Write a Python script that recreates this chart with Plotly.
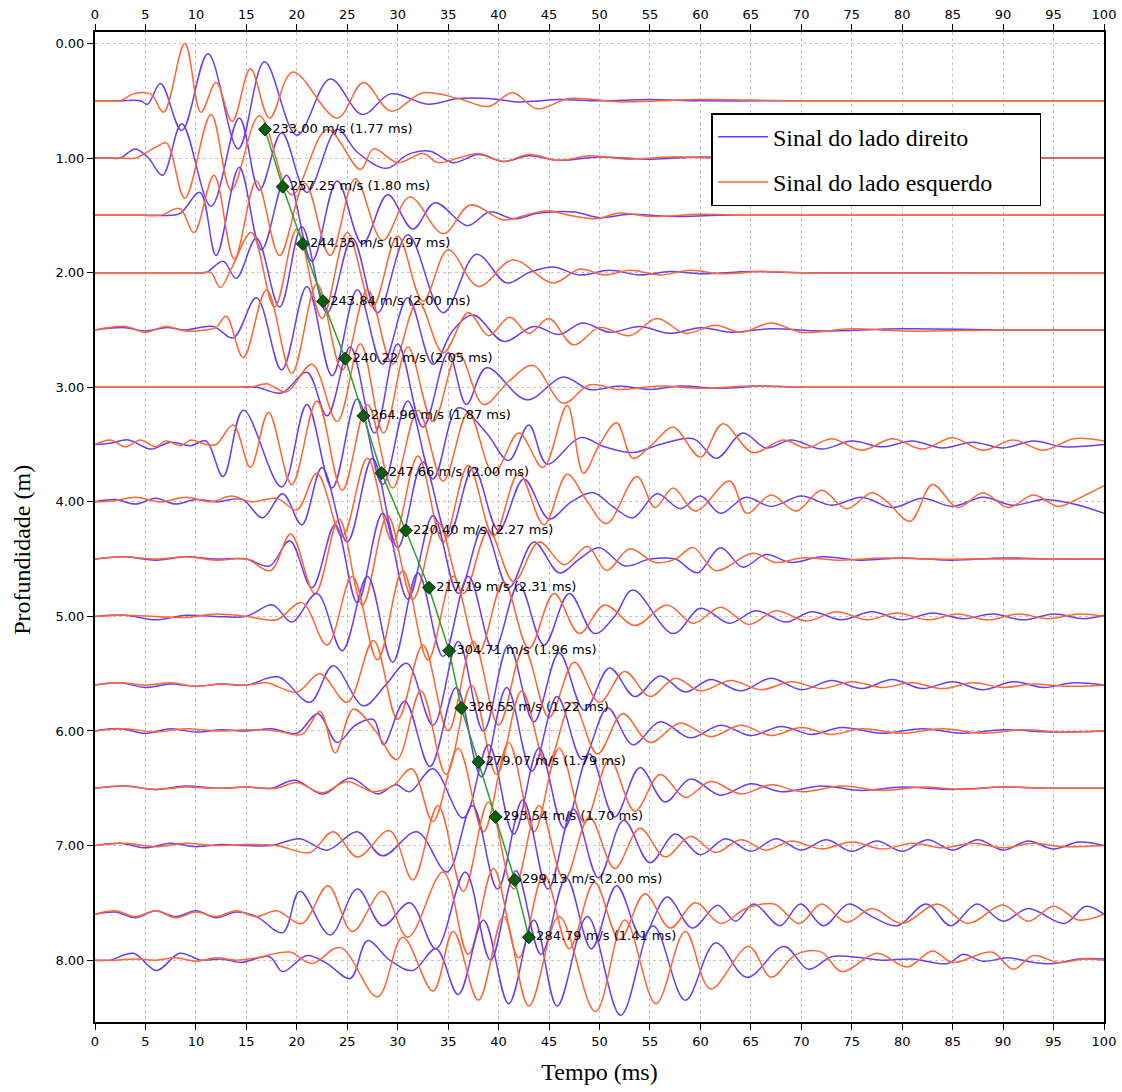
import plotly.graph_objects as go

# ---------------- data ----------------
# trace baselines (depth, m)
depths = [0.5, 1.0, 1.5, 2.0, 2.5, 3.0, 3.5, 4.0, 4.5, 5.0, 5.6, 6.0, 6.5, 7.0, 7.6, 8.0]

# Each trace: key points (time ms, deflection m, positive = upwards)
b05_t = [0,2.5,4.5,5.2,6.5,8.6,11.2,14.2,16.8,20.0,23.3,26.5,29.3,33.0,36.0,39.0,42.0,46,50,55,60,70,80,100]
b05_a = [0,0,0,-0.03,0.15,-0.26,0.41,-0.42,0.34,-0.30,0.19,-0.12,0.06,-0.03,0.02,0.02,-0.01,0.01,0,0.01,0,0,0,0]
r05_t = [0,1.5,2.5,3.8,5.5,6.8,8.9,10.5,12.0,13.6,15.4,17.3,19.6,24.0,26.6,29.3,32.5,36.0,39.0,41.4,43.8,47,52,60,70,80,100]
r05_a = [0,0,0,0.06,0.06,-0.10,0.50,-0.10,0.16,-0.18,0.28,-0.15,0.25,-0.15,0.16,-0.09,0.07,0.02,-0.05,0.07,-0.07,0.02,-0.01,0.01,0,0,0]

b10_t = [0,1.5,2.5,4.0,5.3,6.7,8.6,11.5,14.3,16.3,18.5,21.0,24.0,26.0,28.9,31.0,33.2,35.5,38,40.5,43,46,50,55,60,65,70,100]
b10_a = [0,0,0,0.08,0.0,-0.15,0.30,-0.42,0.35,-0.28,0.22,-0.30,0.25,0.05,-0.09,0.03,0.06,-0.04,0.03,-0.03,0.02,-0.02,0.01,-0.01,0.01,0,0,0]
r10_t = [0,1.5,2.5,4.0,6.1,7.1,8.9,11.5,13.5,16.3,19.5,23.0,26.3,27.6,30,32.5,34,36,38,40.5,43,46,49,53,57,62,70,100]
r10_a = [0,0,0,0.0,0.10,0.13,-0.35,0.38,-0.28,0.37,-0.32,0.25,-0.10,0.08,-0.04,0.04,-0.04,0.0,0.04,-0.03,0.03,-0.02,0.02,-0.01,0.01,0,0,0]

b15_t = [0,3,6,7.5,8.5,10.4,12.0,14.3,16.5,19.0,21.5,24.0,26.5,29.0,31.5,33.7,36.9,39.1,41.5,44,47.5,50,53,57,62,70,100]
b15_a = [0,0,0,0,0.02,0.20,-0.35,0.42,-0.30,0.35,-0.40,0.30,-0.25,0.18,-0.12,0.11,-0.09,0.03,-0.03,0.02,0.03,-0.02,0.01,-0.01,0,0,0]
r15_t = [0,2,4.5,6.5,8.4,9.8,11.8,13.8,16.0,18.3,20.8,23.3,25.8,28.5,31.2,34.5,37.2,40.5,43,45,47,49.6,52,55,60,65,100]
r15_a = [0,0,0,0.0,0.06,-0.15,0.35,-0.38,0.30,-0.35,0.28,-0.35,0.32,-0.22,0.16,-0.16,0.09,-0.04,0.01,0.04,0.0,-0.03,0.02,-0.01,0.01,0,0]

b20_t = [0,4,8,10,11.0,12.7,14.0,16.0,18.3,20.5,23.0,25.5,28.0,31.0,34.5,37.8,40.8,43.0,45.4,48,51,54,57,60,65,70,100]
b20_a = [0,0,0,0,0,0.10,-0.05,0.30,-0.30,0.40,-0.35,0.30,-0.35,0.33,-0.35,0.16,-0.09,0.0,0.05,-0.02,0.02,-0.02,0.01,-0.01,0.01,0,0]
r20_t = [0,4,8,10.5,11.5,12.4,13.6,15.5,17.8,20.0,22.5,25.0,27.5,30.0,32.5,35.0,38.0,41.4,45.4,48,50.5,53,56,59,62,66,70,100]
r20_a = [0,0,0,0,0,-0.13,0.05,0.35,-0.30,0.38,-0.40,0.35,-0.30,0.32,-0.25,0.20,-0.12,0.11,-0.09,0.03,-0.02,0.02,-0.02,0.02,-0.01,0.01,0,0]

b25_t = [0,3,5,7,9,11.7,13.7,16.0,18.5,21.0,23.5,26.0,28.5,31.0,33.5,35.5,37.5,40.5,43.5,46,48.3,51,54,57,60,63,67,72,80,90,100]
b25_a = [0,0.02,-0.01,0.02,0,0.03,-0.07,0.28,-0.35,0.38,-0.40,0.35,-0.30,0.28,-0.30,0.0,0.13,-0.10,0.03,-0.04,0.06,-0.02,0.03,-0.03,0.02,-0.02,0.01,-0.01,0.01,0,0]
r25_t = [0,3,5,7,9,11,12,13.0,14.7,17.0,19.5,22.0,24.5,27.0,29.5,32.0,34.5,37.0,39,41.1,43,45.0,47.4,50,53,55.7,58.5,61.5,64,67,70,75,80,90,100]
r25_a = [0,0.03,-0.02,0.03,-0.01,0,0.02,0.12,-0.24,0.35,-0.38,0.40,-0.35,0.35,-0.30,0.25,-0.20,0.15,-0.05,0.11,-0.03,0.10,-0.13,0.02,-0.05,0.10,-0.03,0.04,-0.02,0.06,-0.02,0.01,-0.01,0,0]

b30_t = [0,5,10,14,16,18.5,21.0,23.0,25.3,27.7,30.0,32.5,35.0,36.8,38.8,42.8,46.4,49,52,55,58,62,66,70,80,90,100]
b30_a = [0,0,0,0,0,-0.05,0.13,-0.25,0.35,-0.40,0.38,-0.35,0.30,-0.15,0.17,-0.11,0.09,-0.02,0.01,-0.02,0.01,-0.01,0.01,0,0,0,0]
r30_t = [0,5,10,14,15.5,17.0,19.0,21.5,24.0,26.3,28.6,31.0,33.5,36.0,38.5,41.0,43.4,46.4,49,52,56,60,65,70,80,90,100]
r30_a = [0,0,0,0,0,0.03,-0.04,0.20,-0.30,0.38,-0.40,0.35,-0.30,0.30,-0.15,0.05,0.19,-0.14,0.02,-0.02,0.01,-0.01,0.01,0,0,0,0]

b35_t = [0,1.5,3.3,5.5,7.5,9.5,11.0,12.7,14.7,18.5,21.0,23.5,26.0,28.5,31.0,33.5,36.0,38.8,41.0,43.0,44.8,48.1,50.5,53.3,56,59.3,61.6,64.2,66.5,69,72,75,78,81,84,87,90,93,96,100]
b35_a = [0,0.01,0.04,-0.04,0.02,-0.01,0.03,-0.28,0.30,-0.37,0.35,-0.38,0.40,-0.35,0.38,-0.30,0.32,0.10,-0.14,0.17,-0.17,0.06,-0.02,-0.07,0.0,0.05,-0.12,0.10,-0.03,0.04,-0.04,0.03,-0.02,0.03,-0.03,0.02,-0.03,0.03,-0.02,0.0]
r35_t = [0,1.5,3.0,4.5,6.0,7.0,8.5,9.5,11.0,12.0,13.7,15.4,17.2,19.5,22.0,24.5,27.0,29.5,32.0,34.5,37.0,39.5,42.0,44.4,46.8,48.4,50,51.7,53.3,55.2,57.3,60.0,62.2,65.2,68.2,70.5,73,76,79,82,85,88,91,94,97,100]
r35_a = [0,0.04,-0.02,0.04,-0.02,0.03,-0.01,0.04,0.0,0.0,0.17,-0.20,0.28,-0.35,0.38,-0.40,0.35,-0.38,0.30,-0.32,0.28,-0.25,0.10,-0.20,0.34,-0.25,0.0,0.19,-0.12,0.0,0.15,-0.11,0.18,-0.07,0.04,-0.03,0.05,-0.05,0.05,-0.04,0.06,-0.05,0.04,-0.05,0.05,0.03]

b40_t = [0,2,4,6,8,10,12,14.6,16.6,18.6,20.5,22.5,25.0,27.5,30.0,32.5,35.0,37.5,40.0,42.5,45.0,47.2,49.4,51.3,53.3,55.7,58,60,62,64.5,67,70,73,76,79,82,85,88,91,94,97,100]
b40_a = [0,0.02,-0.02,0.03,-0.02,0.02,0.0,0.02,-0.14,0.07,-0.20,0.30,-0.35,0.38,-0.40,0.35,-0.30,0.30,-0.25,0.20,-0.15,0.0,0.08,-0.04,-0.14,0.07,-0.06,0.05,-0.10,0.04,-0.04,0.05,-0.03,0.04,-0.05,0.03,-0.04,0.04,-0.03,0.02,-0.02,-0.10]
r40_t = [0,2,4,6.5,9,11.5,13.5,15.5,18.0,20.0,22.0,24.5,27.0,29.5,32.0,34.5,37.0,39.5,42.0,44.5,46.8,48.8,50.7,53.7,55.5,57.3,59.5,62.9,64.6,67,69.5,72,74.5,77,78.5,80.8,83,85.5,88,90.5,93,95.5,97.5,100]
r40_a = [0,0.01,0.04,0.0,0.04,0.0,0.05,0.0,0.03,-0.07,0.25,-0.30,0.38,-0.35,0.40,-0.35,0.32,-0.30,0.25,-0.20,0.24,0.0,-0.19,0.22,-0.05,0.12,-0.08,0.18,-0.10,0.06,-0.08,0.10,-0.06,0.08,0.0,-0.17,0.15,-0.05,0.08,-0.05,0.06,-0.04,0.03,0.14]

b45_t = [0,3,6,9,12,15,17.3,19.3,21.5,23.8,26.0,28.5,31.0,33.5,36.0,38.5,41.0,43.5,46.0,48.0,50.0,52.5,55,57.5,59.7,62.0,64.2,66.5,69,72,76,80,85,90,95,100]
b45_a = [0,0.02,-0.01,0.02,0.0,0.0,-0.06,0.16,-0.25,0.30,-0.38,0.40,-0.35,0.38,-0.30,0.28,-0.25,0.15,-0.12,0.0,0.10,-0.06,0.0,0.0,-0.12,0.10,-0.07,0.04,-0.03,0.02,-0.01,0.01,-0.01,0.01,0,0]
r45_t = [0,3,6,9,12,15,17.4,19.4,21.8,24.2,26.5,29.0,31.5,34.0,36.5,39.0,41.5,44.0,46.5,48.8,50.7,53.0,55.5,57.5,59.3,61.5,65.2,67.5,70,74,78,83,88,93,100]
r45_a = [0,0.02,0.0,0.02,-0.01,0.0,-0.10,0.22,-0.30,0.35,-0.40,0.38,-0.35,0.32,-0.30,0.25,-0.20,0.15,-0.05,0.11,-0.10,0.09,-0.03,0.0,0.10,-0.10,0.05,-0.03,0.01,-0.01,0.01,0,0,0,0]

b50_t = [0,3,6,9,12,15,17.6,19.5,22,24.5,27.0,29.5,32.0,34.5,37.0,39.5,42.0,44.5,47.0,49.5,51.5,53.3,57.3,60.0,62.9,65.5,68.5,71,74,77,80,83,86,89,92,95,98,100]
b50_a = [0,0.01,-0.03,0.01,0.0,0.0,0.10,-0.05,0.20,-0.30,0.35,-0.40,0.38,-0.35,0.35,-0.30,0.28,-0.25,0.20,-0.15,0.0,0.23,-0.15,0.07,-0.06,0.05,-0.05,0.04,-0.03,0.04,-0.03,0.03,-0.02,0.02,-0.03,0.02,-0.02,0.01]
r50_t = [0,3,6,9,12,15,18,20.5,23.0,25.5,28.0,30.5,33.0,35.5,38.0,40.5,43.0,45.5,48,50.5,53.5,56.7,59.3,62.0,64.8,67.5,70.5,73.5,76.5,79.5,82.5,85.5,88.5,91.5,94.5,97.5,100]
r50_a = [0,0.01,0.0,-0.01,0.02,0.0,-0.03,0.12,-0.25,0.35,-0.38,0.40,-0.38,0.35,-0.32,0.30,-0.28,0.20,-0.15,0.10,-0.08,0.10,-0.06,0.08,-0.07,0.05,-0.04,0.04,-0.03,0.03,-0.03,0.02,-0.03,0.02,-0.02,0.02,0.0]

b56_t = [0,2.5,5,7.5,10,12.5,15,18.2,21.3,23.6,26.6,28.8,30.9,33.5,36.0,38.5,41.0,43.5,46.0,48.5,51.0,53.5,56.0,58.5,61,64,67,70,73,76,79,82,85,88,91,94,97,100]
b56_a = [0,0.02,-0.02,0.01,-0.01,0.01,0.0,0.07,-0.15,0.17,-0.18,0.0,0.19,-0.35,0.38,-0.40,0.35,-0.32,0.28,-0.22,0.15,-0.10,0.08,-0.06,0.05,-0.05,0.06,-0.04,0.04,-0.03,0.05,-0.03,0.03,-0.04,0.03,-0.02,0.02,0.0]
r56_t = [0,2.5,5,7.5,10,12.5,15,17,20.0,22.3,25.0,27.6,30.0,32.5,35.0,37.5,40.0,42.5,45.0,47.5,50.0,52.5,55,57.5,60,63,66,69,72,75,78,81,84,87,90,93,96,100]
r56_a = [0,0.02,0.0,0.02,-0.01,0.01,0.0,0.02,-0.06,0.10,-0.15,0.39,-0.30,0.35,-0.40,0.38,-0.35,0.32,-0.28,0.20,-0.15,0.12,-0.10,0.06,-0.05,0.04,-0.04,0.03,-0.03,0.03,-0.02,0.02,-0.03,0.02,-0.02,0.01,-0.01,0.0]

b60_t = [0,2.5,5,7.5,10,12.5,15,17.5,20,22.1,24.0,25.8,27.6,28.6,30.7,33.2,35.8,38.3,40.8,43.3,45.8,48.3,50.8,53.3,56,59,62,65,68,71,74,78,82,86,90,95,100]
b60_a = [0,0.02,-0.02,0.02,-0.01,0.01,0.0,0.02,-0.02,0.15,-0.10,0.05,0.10,-0.12,0.26,-0.31,0.38,-0.40,0.38,-0.35,0.30,-0.25,0.20,-0.12,0.08,-0.06,0.05,-0.04,0.04,-0.03,0.03,-0.02,0.02,-0.02,0.01,-0.01,0.0]
r60_t = [0,3,6,9,12,15,18,20.5,22.3,23.8,25.6,27.8,29.9,32.3,34.8,37.3,39.8,42.3,44.8,47.3,49.8,52.3,55,58,61,64,67,70,73,76,80,84,88,92,96,100]
r60_a = [0,0.02,-0.01,0.02,0.0,0.01,0.0,-0.03,0.17,-0.19,0.19,0.0,-0.25,0.35,-0.38,0.40,-0.38,0.35,-0.30,0.25,-0.20,0.15,-0.10,0.07,-0.05,0.05,-0.04,0.03,-0.03,0.02,-0.02,0.02,-0.02,0.01,-0.01,0.0]

b65_t = [0,3,6,9,12,15,17.5,19.8,22.6,25.3,28.0,29.8,31.2,33.5,36.5,39.0,41.5,44.0,46.5,49.0,51.5,54.0,56.5,59,62,65,68,72,76,80,85,90,95,100]
b65_a = [0,0.02,-0.01,0.02,0.0,0.01,0.0,0.07,-0.05,0.09,-0.05,0.03,-0.03,0.17,-0.26,0.38,-0.40,0.35,-0.35,0.30,-0.25,0.18,-0.12,0.08,-0.06,0.04,-0.03,0.02,-0.02,0.01,-0.01,0.01,0.0,0.0]
r65_t = [0,3,6,9,12,15,18,20,22.5,25,27.5,29.5,31.4,33.5,36.0,38.5,41.0,43.5,46.0,48.5,51.0,53.5,56.0,58.5,61,64,67,70,74,78,82,86,90,95,100]
r65_a = [0,0.02,-0.01,0.01,0.0,0.01,0.0,0.05,-0.04,0.06,-0.03,0.02,0.17,-0.29,0.35,-0.38,0.40,-0.38,0.35,-0.30,0.25,-0.20,0.12,-0.08,0.06,-0.05,0.03,-0.03,0.02,-0.02,0.01,-0.01,0.01,0.0,0.0]

b70_t = [0,2.5,5,7.5,10,12.5,15,17.5,20.3,23.0,26.0,28.5,31.9,34.9,37.4,39.9,42.4,44.9,47.4,49.9,52.4,55,57.5,60,62.5,65,67.5,70,72.5,75,77.5,80,82.5,85,87.5,90,92.5,95,97.5,100]
b70_a = [0,0.02,-0.02,0.02,-0.01,0.01,0.0,0.0,0.06,-0.04,0.12,-0.09,0.12,-0.23,0.35,-0.38,0.40,-0.38,0.32,-0.28,0.22,-0.15,0.10,-0.08,0.06,-0.05,0.06,-0.04,0.05,-0.05,0.04,-0.05,0.05,-0.04,0.05,-0.04,0.04,-0.03,0.03,0.0]
r70_t = [0,3,6,9,12,15,18,21.3,23.6,26.0,29.2,31.5,34.0,36.5,39.0,41.5,44.0,46.5,49.0,51.5,54.0,56.5,59,61.5,64,66.5,69,72,75,78,81,84,87,90,93,96,100]
r70_a = [0,0.02,-0.01,0.02,0.0,0.01,0.0,-0.06,0.12,-0.10,0.13,-0.30,0.35,-0.40,0.38,-0.38,0.35,-0.30,0.25,-0.20,0.15,-0.10,0.08,-0.06,0.05,-0.04,0.04,-0.03,0.03,-0.03,0.02,-0.02,0.02,-0.02,0.02,-0.01,0.0]

b76_t = [0,2,4,6,8,10,12,14,16,18.6,20.3,23.3,26.0,28.5,31.2,33.8,36.7,39.2,41.7,44.2,46.7,49.2,51.7,54.2,56.7,59.2,61.7,63.5,65.3,67.9,69.9,72.2,74.7,77,79.5,82.4,84.8,87.4,90,92.5,96.1,98.2,100]
b76_a = [0,0.02,-0.03,0.03,-0.02,0.03,-0.03,0.02,-0.02,-0.16,0.20,-0.18,0.22,-0.10,0.10,-0.30,0.37,-0.40,0.38,-0.35,0.32,-0.30,0.25,-0.20,0.15,-0.12,0.08,-0.06,0.09,-0.10,0.09,-0.10,0.09,-0.02,-0.10,0.09,-0.10,0.09,-0.06,0.05,-0.08,0.07,0.0]
r76_t = [0,2,4,6,8,10,12,14,16,18,20.5,23.1,25.5,28.5,31.0,34.5,37.0,39.5,42.0,44.5,47.0,49.5,52.0,54.5,57.0,59.5,62,64.5,67.3,69.8,72.0,74.5,77,80,83.5,86.5,90,92.5,95,97.5,100]
r76_a = [0,0.03,-0.02,0.03,-0.03,0.02,-0.02,0.03,-0.02,0.03,-0.08,0.25,-0.15,0.20,-0.20,0.37,-0.35,0.40,-0.38,0.35,-0.30,0.28,-0.22,0.18,-0.12,0.10,-0.08,0.05,0.09,-0.08,0.09,-0.07,0.05,-0.08,0.09,-0.08,0.08,-0.06,0.07,-0.05,0.0]

b80_t = [0,1.5,3.8,6.1,8.4,10.5,12.5,14.5,17.3,18.6,21,23,25.3,27.0,29.2,31.5,33.8,36.0,38.5,41.0,43.5,45.8,48.8,52.1,55.3,58.5,61.5,64.6,68.3,70.7,73,75,78,81,84.5,86,88,90.5,93,95,97.5,100]
b80_a = [0,0.0,0.06,-0.09,0.06,0.0,0.01,-0.02,0.03,-0.10,0.04,-0.03,-0.16,0.17,0.0,-0.09,0.10,-0.30,0.35,-0.38,0.35,-0.40,0.38,-0.48,0.30,-0.35,0.15,-0.15,0.12,-0.08,0.03,0.03,0.0,0.01,-0.03,0.05,-0.01,0.02,-0.02,-0.03,0.01,0.01]
r80_t = [0,2,4,6,8,10,12,14,16,19.3,21.5,24.3,28.0,30.5,33.5,35.5,38.0,40.5,43.0,46.0,49.6,52.5,55.6,58.5,61.0,64.8,67.0,69.5,72.0,74.0,77.5,80.5,83.0,85.0,88.9,91.0,93.0,95.5,98,100]
r80_a = [0,0.0,0.01,0.0,0.02,-0.01,0.02,0.0,0.02,0.07,-0.03,0.11,-0.32,0.20,-0.27,0.25,-0.35,0.38,-0.40,0.38,-0.45,0.35,-0.38,0.25,-0.25,0.12,-0.15,0.05,0.07,-0.10,0.06,-0.06,0.08,-0.02,0.07,-0.08,0.04,-0.02,0.01,0.0]

# velocity picks (green line)
pick_t = [16.85, 18.6, 20.6, 22.6, 24.8, 26.6, 28.4, 30.8, 33.1, 35.1, 36.3, 38.0, 39.7, 41.6, 43.0]
pick_d = [0.75, 1.25, 1.75, 2.25, 2.75, 3.25, 3.75, 4.25, 4.75, 5.30, 5.80, 6.27, 6.75, 7.30, 7.80]
pick_labels = ["233.00 m/s (1.77 ms)", "257.25 m/s (1.80 ms)", "244.35 m/s (1.97 ms)",
               "243.84 m/s (2.00 ms)", "240.22 m/s (2.05 ms)", "264.96 m/s (1.87 ms)",
               "247.66 m/s (2.00 ms)", "220.40 m/s (2.27 ms)", "217.19 m/s (2.31 ms)",
               "304.71 m/s (1.96 ms)", "326.55 m/s (1.22 ms)", "279.07 m/s (1.79 ms)",
               "293.54 m/s (1.70 ms)", "299.13 m/s (2.00 ms)", "284.79 m/s (1.41 ms)"]

x_ticks = list(range(0, 101, 5))
y_ticks = [0, 1, 2, 3, 4, 5, 6, 7, 8]
y_ticktext = [f"{v:.2f}" for v in y_ticks]

blue_name = "Sinal do lado direito"
red_name = "Sinal do lado esquerdo"
x_title = "Tempo (ms)"
y_title = "Profundidade (m)"
blue_col = "#6a3df2"
red_col = "#ff6633"

blue_sets = [(b05_t, b05_a), (b10_t, b10_a), (b15_t, b15_a), (b20_t, b20_a), (b25_t, b25_a),
             (b30_t, b30_a), (b35_t, b35_a), (b40_t, b40_a), (b45_t, b45_a), (b50_t, b50_a),
             (b56_t, b56_a), (b60_t, b60_a), (b65_t, b65_a), (b70_t, b70_a), (b76_t, b76_a),
             (b80_t, b80_a)]
red_sets = [(r05_t, r05_a), (r10_t, r10_a), (r15_t, r15_a), (r20_t, r20_a), (r25_t, r25_a),
            (r30_t, r30_a), (r35_t, r35_a), (r40_t, r40_a), (r45_t, r45_a), (r50_t, r50_a),
            (r56_t, r56_a), (r60_t, r60_a), (r65_t, r65_a), (r70_t, r70_a), (r76_t, r76_a),
            (r80_t, r80_a)]

# ---------------- figure ----------------
fig = go.Figure()

pad = "\u00a0" * 7
for i, d in enumerate(depths):
    for (tt, aa), col, nm, grp in ((blue_sets[i], blue_col, blue_name, "b"),
                                   (red_sets[i], red_col, red_name, "r")):
        n = min(len(tt), len(aa))
        fig.add_trace(go.Scatter(
            x=tt[:n], y=[d - a for a in aa[:n]], mode="lines",
            line=dict(color=col, width=1.5, shape="spline", smoothing=1.0),
            name=nm + pad, legendgroup=grp, showlegend=(i == 0), hoverinfo="skip"))

fig.add_trace(go.Scatter(
    x=pick_t, y=pick_d, mode="lines+markers+text", text=pick_labels,
    textposition="middle right", textfont=dict(family="DejaVu Sans", size=13, color="black"),
    line=dict(color="#2ca02c", width=1.5),
    marker=dict(symbol="diamond", size=10, color="#0b5e0b", line=dict(color="#062f06", width=1)),
    showlegend=False, hoverinfo="skip"))

# invisible trace for the top axis
fig.add_trace(go.Scatter(x=[0, 100], y=[None, None], xaxis="x2", mode="lines",
                         showlegend=False, hoverinfo="skip"))

tick_font = dict(family="DejaVu Sans", size=13, color="black")
title_font = dict(family="Liberation Serif", size=24, color="black")

fig.update_layout(
    width=1122, height=1092,
    margin=dict(l=95, r=18, t=32, b=70),
    paper_bgcolor="white", plot_bgcolor="white",
    xaxis=dict(range=[0, 100], tickvals=x_ticks, showgrid=True, gridcolor="#c4c4c4",
               griddash="dot", gridwidth=1, zeroline=False, showline=True, linecolor="black",
               linewidth=2, ticks="outside", ticklen=6, tickcolor="black", tickwidth=1,
               tickfont=tick_font, title=dict(text=x_title, font=title_font, standoff=16),
               automargin=False),
    xaxis2=dict(range=[0, 100], tickvals=x_ticks, overlaying="x", side="top", showgrid=False,
                zeroline=False, showline=True, linecolor="black", linewidth=2, ticks="outside",
                ticklen=6, tickcolor="black", tickfont=tick_font, automargin=False),
    yaxis=dict(range=[8.54, -0.1], tickvals=y_ticks, ticktext=y_ticktext, showgrid=True,
               gridcolor="#c4c4c4", griddash="dot", gridwidth=1, zeroline=False, showline=True,
               linecolor="black", linewidth=2, mirror=True, ticks="outside", ticklen=6,
               tickcolor="black", tickfont=tick_font, automargin=False),
    legend=dict(x=0.611, y=0.918, xanchor="left", yanchor="top", bgcolor="white",
                bordercolor="black", borderwidth=1.5, tracegroupgap=11, itemwidth=50,
                font=dict(family="Liberation Serif", size=24, color="black")),
    annotations=[dict(text=y_title, textangle=-90, xref="paper", yref="paper",
                      x=-0.0723, y=0.477, xanchor="center", yanchor="middle",
                      showarrow=False, font=title_font)],
    showlegend=True,
)

fig.write_html("out.html")
